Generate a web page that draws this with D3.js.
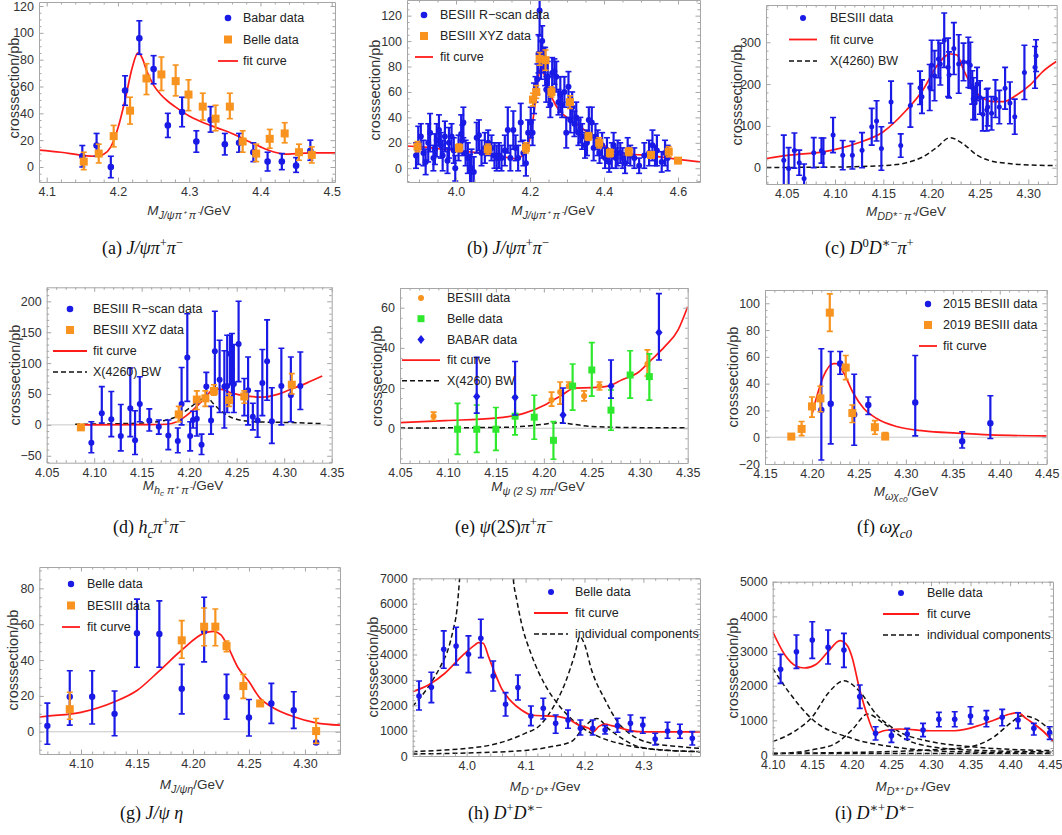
<!DOCTYPE html>
<html lang="en">
<head>
<meta charset="UTF-8">
<title>Cross section fits</title>
<script src="https://d3js.org/d3.v7.min.js"></script>
<style>
  body { margin: 0; background: #fff; }
  svg { display: block; font-family: "Liberation Sans", Arial, sans-serif; }
</style>
</head>
<body>
<svg id="chart" width="1062" height="835"></svg>
<script>
// ---------- data: [x, y, lo, hi] for points (or [x, y, err]), [x, y] for curves ----------
const aBabar = [[4.15,8,0,16],[4.17,16,8,25],[4.19,0,-8,8],[4.21,57,46,68],[4.23,96,84,109],[4.25,73,62,83],[4.27,31,22,40],[4.29,41,30,52],[4.31,19,11,27],[4.33,35,26,45],[4.35,17,9,25],[4.37,18,11,25],[4.39,11,4,18],[4.41,4,-3,11],[4.43,4,-2,10],[4.45,1,-4,7],[4.47,12,5,20]];
const aBelle = [[4.152,4,-2,11],[4.173,10,3,17],[4.194,23,15,31],[4.217,42,32,52],[4.24,66,54,77],[4.261,69,57,82],[4.281,64,53,76],[4.299,54,42,65],[4.319,45,35,55],[4.337,36,27,46],[4.357,45,36,55],[4.375,19,11,27],[4.394,10,4,17],[4.413,21,14,28],[4.434,25,18,33],[4.454,11,5,17],[4.472,9,3,15]];
const aFit = [[4.089,12.6],[4.12,11],[4.15,8.7],[4.17,8],[4.18,9.5],[4.19,15],[4.2,29],[4.21,50],[4.22,74],[4.228,85],[4.235,80],[4.24,72],[4.25,61],[4.26,54],[4.27,49],[4.28,45],[4.3,38],[4.32,33],[4.34,29],[4.36,25],[4.38,20],[4.4,15],[4.42,11],[4.435,9.6],[4.45,10],[4.47,10.5],[4.505,10.5]];

const bRscan = [[3.892,10,10],[3.898,18,15],[3.905,25,10],[3.912,12,10],[3.918,5,10],[3.925,20,15],[3.930,28,15],[3.939,8,10],[3.943,15,12],[3.948,22,13],[3.954,30,12],[3.959,18,10],[3.964,10,12],[3.970,25,12],[3.977,6,10],[3.981,20,12],[3.988,25,10],[3.994,14,10],[3.998,0,10],[4.007,16,10],[4.014,27,15],[4.017,22,12],[4.020,36,12],[4.026,12,10],[4.032,8,12],[4.038,-1,12],[4.042,0,15],[4.048,-3,12],[4.056,24,12],[4.062,26,12],[4.069,12,10],[4.078,16,12],[4.087,20,10],[4.096,16,10],[4.104,10,10],[4.110,8,10],[4.116,10,10],[4.123,8,10],[4.132,14,12],[4.140,30,18],[4.147,8,10],[4.155,30,15],[4.161,16,10],[4.168,8,10],[4.175,36,15],[4.182,12,10],[4.189,4,10],[4.195,28,10],[4.202,36,12],[4.207,28,10],[4.211,55,12],[4.215,62,10],[4.220,70,12],[4.223,90,15],[4.226,124,20],[4.230,85,15],[4.233,100,12],[4.237,85,10],[4.241,80,15],[4.244,62,10],[4.248,72,12],[4.251,60,12],[4.255,50,10],[4.260,75,12],[4.266,76,10],[4.271,72,12],[4.277,52,10],[4.282,58,14],[4.287,50,10],[4.293,60,12],[4.298,28,12],[4.304,64,12],[4.309,38,10],[4.314,48,12],[4.320,35,10],[4.325,40,12],[4.331,28,10],[4.336,30,10],[4.341,25,10],[4.349,18,10],[4.354,20,10],[4.359,38,10],[4.367,36,12],[4.372,16,10],[4.377,25,10],[4.383,20,10],[4.388,12,8],[4.395,18,10],[4.403,8,8],[4.408,14,10],[4.414,5,8],[4.421,10,10],[4.426,18,10],[4.432,8,8],[4.437,12,10],[4.444,12,8],[4.450,8,8],[4.457,4,8],[4.464,14,10],[4.471,10,8],[4.482,8,8],[4.495,2,6],[4.509,10,10],[4.522,12,10],[4.531,18,12],[4.538,10,8],[4.543,14,12],[4.556,5,8],[4.565,12,10],[4.572,8,10]];
const bXyz = [[3.896,17,13,21],[4.008,16,13,19],[4.086,15,11,19],[4.189,16,12,20],[4.208,54,49,59],[4.217,60,55,65],[4.226,86,81,91],[4.242,85,77,93],[4.258,60,56,64],[4.308,52,47,57],[4.358,25,22,28],[4.387,20,16,24],[4.416,12,9,15],[4.467,13,10,16],[4.527,10.5,8,13],[4.575,13,9,17],[4.6,6,4,8]];
const bFit = [[3.868,17.5],[3.9,17],[3.95,15.5],[4.0,14],[4.05,12.5],[4.1,11],[4.13,9],[4.16,7.5],[4.18,10],[4.19,15],[4.2,24],[4.21,42],[4.22,66],[4.23,80],[4.24,72],[4.25,62],[4.26,55],[4.28,45],[4.3,40],[4.33,34],[4.36,27],[4.4,18],[4.42,14],[4.45,11.5],[4.5,10.5],[4.55,9],[4.6,7],[4.66,5]];

const cBes = [[4.047,18,-42,78],[4.052,-2,-52,48],[4.058,41,-1,83],[4.063,12,-18,42],[4.068,-26,-61,9],[4.078,36,0,72],[4.086,41,11,71],[4.088,36,1,71],[4.098,78,36,120],[4.108,30,-5,65],[4.118,30,-3,63],[4.128,42,0,84],[4.138,98,54,142],[4.143,112,64,160],[4.148,46,-6,98],[4.158,157,107,207],[4.168,53,25,81],[4.178,149,97,201],[4.188,191,151,231],[4.190,170,130,210],[4.198,192,137,247],[4.200,245,185,305],[4.203,220,160,280],[4.207,260,215,305],[4.209,248,198,298],[4.213,305,240,370],[4.217,240,170,310],[4.218,222,167,277],[4.223,285,223,347],[4.228,248,178,318],[4.233,253,208,298],[4.238,252,192,312],[4.240,245,190,300],[4.242,192,152,232],[4.243,165,115,215],[4.245,155,115,195],[4.247,200,160,240],[4.250,168,128,208],[4.253,128,88,168],[4.257,138,88,188],[4.258,145,100,190],[4.262,130,90,170],[4.266,165,120,210],[4.270,145,105,185],[4.276,190,140,240],[4.281,155,105,205],[4.286,122,80,164],[4.296,228,163,293],[4.307,240,190,290],[4.308,268,230,306]];
const cFit = [[4.029,22],[4.053,30],[4.088,38],[4.122,58],[4.15,86],[4.174,138],[4.191,186],[4.205,242],[4.219,272],[4.226,270],[4.233,234],[4.243,190],[4.253,166],[4.264,158],[4.274,158],[4.288,174],[4.302,198],[4.315,230],[4.329,254]];
const cBW = [[4.029,0.5],[4.1,1.5],[4.157,6],[4.174,12],[4.191,26],[4.205,48],[4.219,72],[4.232,58],[4.247,30],[4.26,17],[4.28,10],[4.295,7],[4.329,5]];

const dRscan = [[4.097,-29,-45,5],[4.108,19,3,62],[4.118,9,-19,54],[4.128,-18,-42,33],[4.138,27,-19,92],[4.143,-25,-48,23],[4.148,34,5,78],[4.158,7,-10,26],[4.168,-3,-15,8],[4.178,-17,-40,8],[4.188,-26,-45,-5],[4.192,34,0,93],[4.198,109,38,180],[4.201,-18,-42,5],[4.204,8,-5,22],[4.208,10,-18,35],[4.213,-32,-48,-15],[4.218,62,40,85],[4.223,7,-15,30],[4.227,119,60,184],[4.232,73,20,137],[4.237,62,-5,120],[4.240,63,20,145],[4.243,115,65,145],[4.245,88,35,148],[4.247,66,20,130],[4.252,131,70,200],[4.258,48,15,75],[4.262,56,0,110],[4.267,13,-8,35],[4.272,7,-20,55],[4.277,68,15,122],[4.282,103,40,170],[4.287,6,-30,60],[4.297,63,0,124],[4.307,48,5,110],[4.317,63,25,118]];
const dXyz = [[4.086,-4,-6,-1],[4.189,17,5,30],[4.208,41,25,55],[4.217,43,30,55],[4.226,55,48,65],[4.242,40,30,50],[4.258,46,35,55],[4.308,65,50,83]];
const dFit = [[4.082,0],[4.15,0.5],[4.176,1],[4.187,5],[4.197,15],[4.208,30],[4.217,44],[4.225,57],[4.232,58],[4.246,51],[4.264,46],[4.278,45],[4.292,49],[4.306,57],[4.324,68],[4.34,79]];
const dBW = [[4.08,1],[4.15,3],[4.176,8],[4.19,16],[4.2,27],[4.211,40],[4.218,46],[4.225,35],[4.234,22],[4.246,11],[4.268,5],[4.3,4],[4.34,2]];

const eBes = [[4.085,6,4,8],[4.208,14,11,18],[4.217,18,12,23],[4.226,21,20,23],[4.242,16,13.6,18.6],[4.258,21,19,23],[4.308,32,26,39]];
const eBelle = [[4.11,-0.5,-13,12.4],[4.13,-0.5,-12,11.6],[4.15,-0.5,-11,10.3],[4.17,6,-3.3,15.8],[4.19,5.5,-5.5,16.4],[4.21,-6,-15.4,3.3],[4.23,21,9,32],[4.25,29,16,42.6],[4.27,9,-1,19],[4.29,26.5,15,38.6],[4.31,25.7,14,37]];
const eBabar = [[4.13,15.8,7.5,35.3],[4.17,15.3,6.6,33.2],[4.22,6.6,2.5,20],[4.27,21,15,34],[4.32,47.6,34,67]];
const eFit = [[4.05,2.8],[4.097,3.8],[4.149,5],[4.18,7.5],[4.201,11.6],[4.219,16.6],[4.232,20],[4.25,20.2],[4.267,21],[4.281,24],[4.299,28],[4.312,34],[4.326,40.6],[4.34,49],[4.35,60.5]];
const eBW = [[4.05,0.1],[4.15,0.4],[4.18,1],[4.2,2],[4.215,2.8],[4.23,2],[4.25,0.9],[4.3,0.3],[4.35,0.2]];

const f2015 = [[4.21,20.4,-17,66],[4.22,25,-5,64],[4.23,55,47,64],[4.245,17,-6,47],[4.26,24,17,30],[4.31,26,1,61],[4.36,-3,-8,4],[4.39,10.5,-1,31]];
const f2019 = [[4.178,0.5,-0.5,2.5],[4.189,6.2,1.2,11.7],[4.2,23,15,30],[4.209,29,19,38],[4.219,93,79,107],[4.236,52,43,61],[4.243,18,11,24],[4.267,7.5,2.2,12.4],[4.278,0.5,-0.7,3.5]];
const fFit = [[4.1997,16],[4.205,30],[4.212,45],[4.223,55],[4.226,55],[4.233,49],[4.244,33],[4.255,21.6],[4.269,14],[4.29,8],[4.319,4.7],[4.354,3],[4.39,1.7],[4.45,1]];

const gBelle = [[4.07,3.3,-7,16],[4.09,19.5,3.7,34],[4.11,19.5,4.3,34],[4.13,10,-2.2,22.7],[4.15,55,36,74],[4.17,54.5,36,73],[4.19,24,10,37.6],[4.21,56,39,75],[4.23,19.5,7,32],[4.25,8,-2.4,18],[4.27,15.8,4.7,27],[4.29,12,1.9,22.3],[4.31,-6,-7,-5.5]];
const gBes = [[4.09,12.6,7,22],[4.19,51,41,62],[4.21,58.6,48,69],[4.22,58.6,48,68.5],[4.23,47.8,44.7,50.6],[4.245,25.5,18.6,32],[4.26,15.8,14.3,17.3],[4.31,0.4,-6.5,7.4]];
const gFit = [[4.0628,8.2],[4.07,8.7],[4.1,10.8],[4.13,16.7],[4.15,23],[4.17,34],[4.19,45.6],[4.21,55],[4.218,56],[4.225,54],[4.23,49],[4.24,36],[4.25,28],[4.26,18.6],[4.27,14],[4.29,8.4],[4.31,5],[4.3313,3.7]];

const hBelle = [[3.919,2365,1813,2957],[3.94,2707,2102,3298],[3.961,4205,3456,4928],[3.982,4336,3587,5072],[4.003,4008,3285,4731],[4.024,4639,3876,5388],[4.045,3154,2562,3745],[4.066,2037,1577,2497],[4.087,2694,2208,3193],[4.109,1577,1196,1971],[4.13,1879,1459,2273],[4.151,1288,894,1616],[4.172,1419,1091,1813],[4.193,1091,828,1419],[4.214,1091,828,1419],[4.235,1025,867,1196],[4.256,1196,933,1485],[4.278,1288,959,1616],[4.299,1222,894,1511],[4.32,670,434,894],[4.341,986,697,1327],[4.362,933,697,1248],[4.383,697,434,959]];
const hFit = [[3.908,2536],[3.935,2799],[3.963,3259],[3.991,3916],[4.014,4376],[4.02,4468],[4.028,4441],[4.037,3916],[4.048,3259],[4.059,2668],[4.076,2142],[4.093,1813],[4.11,1616],[4.133,1577],[4.156,1550],[4.173,1445],[4.19,1222],[4.207,1091],[4.215,959],[4.224,1156],[4.235,1261],[4.246,1196],[4.269,1051],[4.291,959],[4.314,950],[4.396,950]];
const hComp1L = [[3.908,1950],[3.935,2730],[3.958,3650],[3.969,4240],[3.977,4970],[3.983,5690],[3.988,7000],[3.990,7600]];
const hComp1R = [[4.077,7600],[4.079,7000],[4.085,6150],[4.093,5230],[4.11,3980],[4.133,2800],[4.156,2010],[4.19,1222],[4.224,762],[4.258,500],[4.303,302],[4.396,170]];
const hComp2 = [[3.908,170],[3.95,220],[4.0,300],[4.05,480],[4.1,900],[4.122,1160],[4.144,1810],[4.167,2870],[4.184,4050],[4.192,4700],[4.2,4400],[4.212,3390],[4.235,2210],[4.258,1290],[4.28,830],[4.303,565],[4.36,370],[4.396,300]];
const hComp3 = [[3.908,80],[4.0,120],[4.1,220],[4.144,370],[4.178,570],[4.2,1160],[4.221,1480],[4.24,1090],[4.263,700],[4.291,370],[4.33,240],[4.396,170]];

const iBelle = [[4.11,2471,2067,2904],[4.13,2981,2500,3462],[4.15,3317,2788,3846],[4.17,3106,2625,3606],[4.19,3029,2529,3510],[4.21,1683,1346,2019],[4.23,625,433,817],[4.25,558,365,721],[4.27,606,452,769],[4.29,721,529,913],[4.31,1029,817,1231],[4.33,1029,817,1250],[4.35,1125,894,1394],[4.37,1058,817,1279],[4.39,1087,846,1317],[4.41,1010,769,1221],[4.43,769,577,913],[4.45,644,452,817]];
const iFit = [[4.1,3560],[4.115,2900],[4.13,2560],[4.14,2510],[4.155,2620],[4.17,2980],[4.185,3300],[4.195,3130],[4.2,2840],[4.21,1880],[4.22,1110],[4.23,625],[4.24,700],[4.26,750],[4.3,700],[4.33,700],[4.36,846],[4.38,1010],[4.4,1183],[4.41,1221],[4.42,1058],[4.44,721],[4.455,385]];
const iCompA = [[4.1,2500],[4.12,1830],[4.15,1030],[4.2,480],[4.25,240],[4.3,125],[4.35,87],[4.455,48]];
const iCompB = [[4.1,385],[4.13,720],[4.15,1100],[4.17,1780],[4.19,2140],[4.21,1830],[4.23,1200],[4.26,670],[4.3,385],[4.35,240],[4.4,163],[4.455,125]];
const iCompC = [[4.1,30],[4.15,150],[4.18,340],[4.2,720],[4.22,1180],[4.24,910],[4.27,430],[4.3,240],[4.35,144],[4.455,87]];
const iCompD = [[4.1,50],[4.25,100],[4.3,145],[4.35,240],[4.38,530],[4.4,910],[4.415,1130],[4.43,1060],[4.455,625]];
const iCompE = [[4.1,40],[4.455,40]];

// ---------- styling ----------
const BLUE = '#1a1ae6', ORANGE = '#f7931e', GREEN = '#2ee82e', RED = '#ff1a1a', BLACK = '#111';
const FRAME = '#a6a6a6', FONT = '"Liberation Sans", Arial, sans-serif';
const SERIF = '"Liberation Serif", "DejaVu Serif", serif';

const svg = d3.select('#chart');

function signFmt(spec) {
  const f = d3.format(spec);
  return v => f(Math.abs(v) < 1e-9 ? 0 : v).replace('-', '\u2212');
}

function tickRange(domain, start, step) {
  const lo = Math.min(...domain), hi = Math.max(...domain), out = [];
  for (let k = 0; start + k * step <= hi + 1e-9; k++) {
    const v = +(start + k * step).toFixed(6);
    if (v >= lo - 1e-9) out.push(v);
  }
  return out;
}

// rich text: parts of {t, i, lv}; lv 0 normal, 1 sup, -1 sub, -2 subsub
function richText(sel, parts, size, subScale) {
  const lv = { '0': [0, 1], '1': [-0.4, 0.7], '-1': [0.28, subScale || 0.72], '-2': [0.45, 0.6] };
  let cur = 0;
  parts.forEach(p => {
    const [off, sc] = lv[String(p.lv || 0)];
    const px = off * size;
    sel.append('tspan').attr('dy', px - cur).attr('font-size', size * sc)
      .attr('font-style', p.i ? 'italic' : 'normal').text(p.t);
    cur = px;
  });
}

function marker(sel, kind, color, size) {
  if (kind === 'circle') return sel.append('circle').attr('r', size).attr('fill', color);
  if (kind === 'square') return sel.append('rect').attr('x', -size / 2).attr('y', -size / 2)
    .attr('width', size).attr('height', size).attr('fill', color);
  if (kind === 'diamond') return sel.append('path')
    .attr('d', `M0,${-size}L${size * 0.8},0L0,${size}L${-size * 0.8},0Z`).attr('fill', color);
}

function drawPanel(p) {
  const [x0, y0, x1, y1] = p.frame;
  const x = d3.scaleLinear().domain(p.xDomain).range([x0, x1]);
  const y = d3.scaleLinear().domain(p.yDomain).range([y1, y0]);
  const g = svg.append('g').attr('class', 'panel-' + p.id);

  g.append('clipPath').attr('id', 'clip-' + p.id).append('rect')
    .attr('x', x0).attr('y', y0).attr('width', x1 - x0).attr('height', y1 - y0);
  const plot = g.append('g').attr('clip-path', `url(#clip-${p.id})`);

  if (p.zeroLine) {
    plot.append('line').attr('x1', x0).attr('x2', x1).attr('y1', y(0)).attr('y2', y(0))
      .attr('stroke', '#c8c8c8').attr('stroke-width', 1);
  }

  const line = d3.line().x(d => x(d[0])).y(d => y(d[1])).curve(d3.curveMonotoneX);
  p.curves.forEach(c => {
    plot.append('path').datum(c.data).attr('d', line).attr('fill', 'none')
      .attr('stroke', c.color).attr('stroke-width', c.width || 1.7)
      .attr('stroke-dasharray', c.dash || null);
  });

  p.series.forEach(s => {
    const sg = plot.append('g');
    const lo = d => d.length === 4 ? d[2] : d[1] - d[2];
    const hi = d => d.length === 4 ? d[3] : d[1] + d[2];
    const cap = s.cap || 3;
    sg.selectAll('line.bar').data(s.data).join('line').attr('class', 'bar')
      .attr('x1', d => x(d[0])).attr('x2', d => x(d[0]))
      .attr('y1', d => y(lo(d))).attr('y2', d => y(hi(d)))
      .attr('stroke', s.color).attr('stroke-width', s.bw || 2.2);
    ['lo', 'hi'].forEach(k => {
      sg.selectAll('line.cap-' + k).data(s.data).join('line').attr('class', 'cap-' + k)
        .attr('x1', d => x(d[0]) - cap).attr('x2', d => x(d[0]) + cap)
        .attr('y1', d => y(k === 'lo' ? lo(d) : hi(d))).attr('y2', d => y(k === 'lo' ? lo(d) : hi(d)))
        .attr('stroke', s.color).attr('stroke-width', 1.6);
    });
    sg.selectAll('g.mk').data(s.data).join('g').attr('class', 'mk')
      .attr('transform', d => `translate(${x(d[0])},${y(d[1])})`)
      .each(function () { marker(d3.select(this), s.kind, s.color, s.size); });
  });

  // frame with inward ticks on all four sides
  const xMaj = tickRange(p.xDomain, p.xTicks[0], p.xTicks[1]);
  const xMin = tickRange(p.xDomain, Math.ceil(p.xDomain[0] / p.xTicks[2] - 1e-9) * p.xTicks[2], p.xTicks[2])
    .filter(v => !xMaj.some(m => Math.abs(m - v) < 1e-6));
  const yMaj = tickRange(p.yDomain, p.yTicks[0], p.yTicks[1]);
  const yMin = tickRange(p.yDomain, Math.ceil(p.yDomain[0] / p.yTicks[2] - 1e-9) * p.yTicks[2], p.yTicks[2])
    .filter(v => !yMaj.some(m => Math.abs(m - v) < 1e-6));

  const axes = [
    [d3.axisBottom(x), `translate(0,${y1})`, xMaj, xMin, signFmt(p.xFmt)],
    [d3.axisTop(x), `translate(0,${y0})`, xMaj, xMin, null],
    [d3.axisLeft(y), `translate(${x0},0)`, yMaj, yMin, signFmt(p.yFmt)],
    [d3.axisRight(y), `translate(${x1},0)`, yMaj, yMin, null]
  ];
  axes.forEach(([ax, tr, maj, mnr, fmt]) => {
    const minor = g.append('g').attr('transform', tr)
      .call(ax.tickValues(mnr).tickSizeInner(-2.5).tickSizeOuter(0).tickFormat(''));
    minor.select('.domain').remove();
    minor.selectAll('.tick line').attr('stroke', FRAME);
    const major = g.append('g').attr('transform', tr)
      .call(ax.tickValues(maj).tickSizeInner(-4.5).tickSizeOuter(0).tickPadding(5).tickFormat(fmt || ''));
    major.select('.domain').attr('stroke', FRAME);
    major.selectAll('.tick line').attr('stroke', FRAME);
    major.selectAll('.tick text').attr('fill', '#333').attr('font-size', 12.5).attr('font-family', FONT);
  });

  // axis labels
  g.append('text').attr('transform', `translate(${p.yLabel[0]},${p.yLabel[1]}) rotate(-90)`)
    .attr('text-anchor', 'middle').attr('dy', '0.35em').attr('font-size', 14.5)
    .attr('fill', '#333').text('crosssection/pb');
  const xl = g.append('text').attr('x', p.xLabel[0]).attr('y', p.xLabel[1])
    .attr('text-anchor', 'middle').attr('fill', '#333');
  richText(xl, p.xLabelParts, 13.5, 0.8);

  // legend
  const L = p.legend;
  L.items.forEach((it, k) => {
    const ly = L.y + k * L.dy;
    const lg = g.append('g');
    if (it.kind === 'line' || it.kind === 'dash') {
      lg.append('line').attr('x1', L.x - L.half).attr('x2', L.x + L.half).attr('y1', ly).attr('y2', ly)
        .attr('stroke', it.color).attr('stroke-width', it.kind === 'line' ? 1.8 : 1.5)
        .attr('stroke-dasharray', it.kind === 'dash' ? '5,3' : null);
    } else {
      marker(lg.append('g').attr('transform', `translate(${L.x},${ly})`), it.kind, it.color, it.size);
    }
    lg.append('text').attr('x', L.tx).attr('y', ly).attr('dy', '0.35em')
      .attr('font-size', 12.5).attr('fill', '#222').text(it.label);
  });

  // caption
  const cap = svg.append('text').attr('x', p.caption[0]).attr('y', p.caption[1])
    .attr('font-family', SERIF).attr('fill', '#111');
  richText(cap, p.captionParts, 18);
}

const panels = [
  { id: 'a', frame: [39, 2, 335, 182], xDomain: [4.0892, 4.5046], yDomain: [-11.2, 123],
    xTicks: [4.1, 0.1, 0.02], yTicks: [0, 20, 5], xFmt: '.1f', yFmt: 'd',
    curves: [{ data: aFit, color: RED }],
    series: [{ data: aBabar, color: BLUE, kind: 'circle', size: 3.3 },
             { data: aBelle, color: ORANGE, kind: 'square', size: 8 }],
    legend: { x: 228, y: 18, dy: 21.5, tx: 243, half: 10, items: [
      { label: 'Babar data', kind: 'circle', color: BLUE, size: 3.3 },
      { label: 'Belle data', kind: 'square', color: ORANGE, size: 8 },
      { label: 'fit curve', kind: 'line', color: RED }] },
    yLabel: [14, 88], xLabel: [189, 215],
    xLabelParts: [{ t: 'M', i: 1 }, { t: 'J/\u03c8\u03c0\u207a \u03c0\u207b', i: 1, lv: -1 }, { t: '/GeV' }],
    caption: [102, 254],
    captionParts: [{ t: '(a) ' }, { t: 'J/\u03c8\u03c0', i: 1 }, { t: '+', lv: 1 }, { t: '\u03c0', i: 1 }, { t: '\u2212', lv: 1 }] },

  { id: 'b', frame: [407, 0, 700, 182], xDomain: [3.8676, 4.6595], yDomain: [-10.8, 132.3],
    xTicks: [4.0, 0.2, 0.05], yTicks: [0, 20, 5], xFmt: '.1f', yFmt: 'd',
    curves: [{ data: bFit, color: RED }],
    series: [{ data: bRscan, color: BLUE, kind: 'circle', size: 3 },
             { data: bXyz, color: ORANGE, kind: 'square', size: 8 }],
    legend: { x: 424, y: 15, dy: 21, tx: 440, half: 9, items: [
      { label: 'BESIII R\u2212scan data', kind: 'circle', color: BLUE, size: 3.3 },
      { label: 'BESIII XYZ data', kind: 'square', color: ORANGE, size: 8 },
      { label: 'fit curve', kind: 'line', color: RED }] },
    yLabel: [375, 90], xLabel: [553, 215],
    xLabelParts: [{ t: 'M', i: 1 }, { t: 'J/\u03c8\u03c0\u207a \u03c0\u207b', i: 1, lv: -1 }, { t: '/GeV' }],
    caption: [467, 254],
    captionParts: [{ t: '(b) ' }, { t: 'J/\u03c8\u03c0', i: 1 }, { t: '+', lv: 1 }, { t: '\u03c0', i: 1 }, { t: '\u2212', lv: 1 }] },

  { id: 'c', frame: [766, 5, 1056.7, 184], xDomain: [4.0286, 4.3294], yDomain: [-39, 389.2],
    xTicks: [4.05, 0.05, 0.01], yTicks: [0, 100, 20], xFmt: '.2f', yFmt: 'd',
    curves: [{ data: cBW, color: BLACK, dash: '5,3', width: 1.5 }, { data: cFit, color: RED }],
    series: [{ data: cBes, color: BLUE, kind: 'circle', size: 2.5 }],
    legend: { x: 803, y: 18, dy: 21.5, tx: 830, half: 14, items: [
      { label: 'BESIII data', kind: 'circle', color: BLUE, size: 3 },
      { label: 'fit curve', kind: 'line', color: RED },
      { label: 'X(4260) BW', kind: 'dash', color: BLACK }] },
    yLabel: [737, 95], xLabel: [906, 216],
    xLabelParts: [{ t: 'M', i: 1 }, { t: 'DD*\u207b \u03c0\u207a', i: 1, lv: -1 }, { t: '/GeV' }],
    caption: [825, 254],
    captionParts: [{ t: '(c) ' }, { t: 'D', i: 1 }, { t: '0', lv: 1 }, { t: 'D', i: 1 }, { t: '\u2217\u2212', lv: 1 }, { t: '\u03c0', i: 1 }, { t: '+', lv: 1 }] },

  { id: 'd', frame: [46.7, 287.3, 331.7, 462.7], xDomain: [4.05, 4.35], yDomain: [-61.2, 222.7],
    xTicks: [4.05, 0.05, 0.01], yTicks: [-50, 50, 10], xFmt: '.2f', yFmt: 'd', zeroLine: true,
    curves: [{ data: dBW, color: BLACK, dash: '5,3', width: 1.5 }, { data: dFit, color: RED }],
    series: [{ data: dRscan, color: BLUE, kind: 'circle', size: 3 },
             { data: dXyz, color: ORANGE, kind: 'square', size: 8 }],
    legend: { x: 70, y: 309, dy: 21, tx: 93, half: 17, items: [
      { label: 'BESIII R\u2212scan data', kind: 'circle', color: BLUE, size: 3.3 },
      { label: 'BESIII XYZ data', kind: 'square', color: ORANGE, size: 8 },
      { label: 'fit curve', kind: 'line', color: RED },
      { label: 'X(4260) BW', kind: 'dash', color: BLACK }] },
    yLabel: [15, 375], xLabel: [183, 490],
    xLabelParts: [{ t: 'M', i: 1 }, { t: 'h', i: 1, lv: -1 }, { t: 'c', i: 1, lv: -2 }, { t: ' \u03c0\u207a \u03c0\u207b', i: 1, lv: -1 }, { t: '/GeV' }],
    caption: [113, 533],
    captionParts: [{ t: '(d) ' }, { t: 'h', i: 1 }, { t: 'c', i: 1, lv: -1 }, { t: '\u03c0', i: 1 }, { t: '+', lv: 1 }, { t: '\u03c0', i: 1 }, { t: '\u2212', lv: 1 }] },

  { id: 'e', frame: [400, 288, 687.7, 463], xDomain: [4.05, 4.35], yDomain: [-17.3, 69.8],
    xTicks: [4.05, 0.05, 0.01], yTicks: [0, 20, 5], xFmt: '.2f', yFmt: 'd', zeroLine: true,
    curves: [{ data: eBW, color: BLACK, dash: '5,3', width: 1.5 }, { data: eFit, color: RED }],
    series: [{ data: eBes, color: ORANGE, kind: 'circle', size: 3 },
             { data: eBelle, color: GREEN, kind: 'square', size: 7 },
             { data: eBabar, color: BLUE, kind: 'diamond', size: 4.5 }],
    legend: { x: 421, y: 298, dy: 20.7, tx: 447, half: 19, items: [
      { label: 'BESIII data', kind: 'circle', color: ORANGE, size: 3 },
      { label: 'Belle data', kind: 'square', color: GREEN, size: 7 },
      { label: 'BABAR data', kind: 'diamond', color: BLUE, size: 4.5 },
      { label: 'fit curve', kind: 'line', color: RED },
      { label: 'X(4260) BW', kind: 'dash', color: BLACK }] },
    yLabel: [377, 376], xLabel: [538, 491],
    xLabelParts: [{ t: 'M', i: 1 }, { t: '\u03c8 (2 S) \u03c0\u03c0', i: 1, lv: -1 }, { t: '/GeV' }],
    caption: [455, 533],
    captionParts: [{ t: '(e) ' }, { t: '\u03c8', i: 1 }, { t: '(2' }, { t: 'S', i: 1 }, { t: ')' }, { t: '\u03c0', i: 1 }, { t: '+', lv: 1 }, { t: '\u03c0', i: 1 }, { t: '\u2212', lv: 1 }] },

  { id: 'f', frame: [765, 290, 1046.7, 464], xDomain: [4.15, 4.45], yDomain: [-20, 109.9],
    xTicks: [4.15, 0.05, 0.01], yTicks: [-20, 20, 5], xFmt: '.2f', yFmt: 'd', zeroLine: true,
    curves: [{ data: fFit, color: RED }],
    series: [{ data: f2015, color: BLUE, kind: 'circle', size: 3.2 },
             { data: f2019, color: ORANGE, kind: 'square', size: 8 }],
    legend: { x: 928, y: 304, dy: 21, tx: 943, half: 9, items: [
      { label: '2015 BESIII data', kind: 'circle', color: BLUE, size: 3.2 },
      { label: '2019 BESIII data', kind: 'square', color: ORANGE, size: 8 },
      { label: 'fit curve', kind: 'line', color: RED }] },
    yLabel: [733, 377], xLabel: [906, 496],
    xLabelParts: [{ t: 'M', i: 1 }, { t: '\u03c9\u03c7', i: 1, lv: -1 }, { t: 'c0', i: 1, lv: -2 }, { t: '/GeV' }],
    caption: [857, 533],
    captionParts: [{ t: '(f) ' }, { t: '\u03c9\u03c7', i: 1 }, { t: 'c0', i: 1, lv: -1 }] },

  { id: 'g', frame: [39.3, 567, 340, 754], xDomain: [4.0628, 4.3313], yDomain: [-12.4, 91.9],
    xTicks: [4.1, 0.05, 0.01], yTicks: [0, 20, 5], xFmt: '.2f', yFmt: 'd', zeroLine: true,
    curves: [{ data: gFit, color: RED }],
    series: [{ data: gBelle, color: BLUE, kind: 'circle', size: 3.2 },
             { data: gBes, color: ORANGE, kind: 'square', size: 8 }],
    legend: { x: 71, y: 584, dy: 21.5, tx: 87, half: 9, items: [
      { label: 'Belle data', kind: 'circle', color: BLUE, size: 3.2 },
      { label: 'BESIII data', kind: 'square', color: ORANGE, size: 8 },
      { label: 'fit curve', kind: 'line', color: RED }] },
    yLabel: [13, 660], xLabel: [192, 789],
    xLabelParts: [{ t: 'M', i: 1 }, { t: 'J/\u03c8\u03b7', i: 1, lv: -1 }, { t: '/GeV' }],
    caption: [120, 819],
    captionParts: [{ t: '(g) ' }, { t: 'J/\u03c8 \u03b7', i: 1 }] },

  { id: 'h', frame: [412.7, 578.3, 700, 756], xDomain: [3.9083, 4.3961], yDomain: [0, 7000],
    xTicks: [4.0, 0.1, 0.02], yTicks: [0, 1000, 200], xFmt: '.1f', yFmt: 'd',
    curves: [{ data: hComp1L, color: BLACK, dash: '5,3', width: 1.5 },
             { data: hComp1R, color: BLACK, dash: '5,3', width: 1.5 },
             { data: hComp2, color: BLACK, dash: '5,3', width: 1.5 },
             { data: hComp3, color: BLACK, dash: '5,3', width: 1.5 },
             { data: hFit, color: RED }],
    series: [{ data: hBelle, color: BLUE, kind: 'circle', size: 2.8 }],
    legend: { x: 551, y: 592, dy: 21, tx: 575, half: 17, items: [
      { label: 'Belle data', kind: 'circle', color: BLUE, size: 3 },
      { label: 'fit curve', kind: 'line', color: RED },
      { label: 'individual components', kind: 'dash', color: BLACK }] },
    yLabel: [373, 667], xLabel: [545, 791],
    xLabelParts: [{ t: 'M', i: 1 }, { t: 'D\u207a D*\u207b', i: 1, lv: -1 }, { t: '/Gev' }],
    caption: [468, 819],
    captionParts: [{ t: '(h) ' }, { t: 'D', i: 1 }, { t: '+', lv: 1 }, { t: 'D', i: 1 }, { t: '\u2217\u2212', lv: 1 }] },

  { id: 'i', frame: [772.7, 581.7, 1053, 755], xDomain: [4.10, 4.4542], yDomain: [0, 5000],
    xTicks: [4.1, 0.05, 0.01], yTicks: [0, 1000, 200], xFmt: '.2f', yFmt: 'd',
    curves: [{ data: iCompA, color: BLACK, dash: '5,3', width: 1.5 },
             { data: iCompB, color: BLACK, dash: '5,3', width: 1.5 },
             { data: iCompC, color: BLACK, dash: '5,3', width: 1.5 },
             { data: iCompD, color: BLACK, dash: '5,3', width: 1.5 },
             { data: iCompE, color: BLACK, dash: '5,3', width: 1.5 },
             { data: iFit, color: RED }],
    series: [{ data: iBelle, color: BLUE, kind: 'circle', size: 2.8 }],
    legend: { x: 901, y: 593, dy: 21, tx: 927, half: 18, items: [
      { label: 'Belle data', kind: 'circle', color: BLUE, size: 3 },
      { label: 'fit curve', kind: 'line', color: RED },
      { label: 'individual components', kind: 'dash', color: BLACK }] },
    yLabel: [733, 668], xLabel: [913, 791],
    xLabelParts: [{ t: 'M', i: 1 }, { t: 'D*\u207a D*\u207b', i: 1, lv: -1 }, { t: '/Gev' }],
    caption: [835, 819],
    captionParts: [{ t: '(i) ' }, { t: 'D', i: 1 }, { t: '\u2217+', lv: 1 }, { t: 'D', i: 1 }, { t: '\u2217\u2212', lv: 1 }] }
];

panels.forEach(drawPanel);
</script>
</body>
</html>
